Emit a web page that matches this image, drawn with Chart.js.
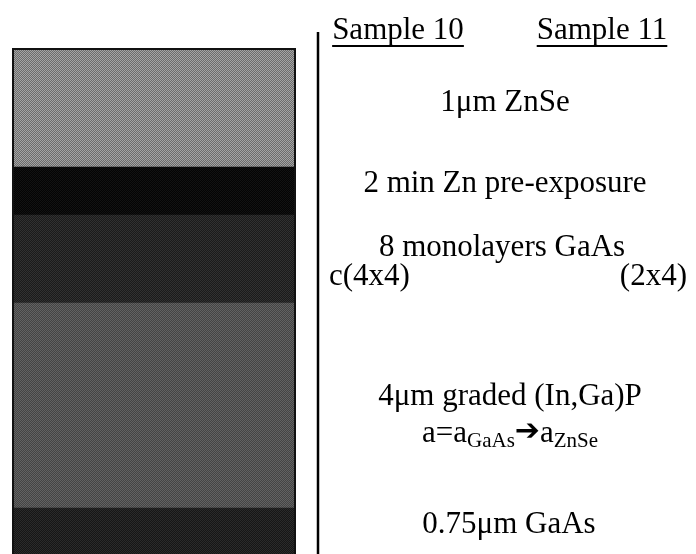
<!DOCTYPE html>
<html>
<head>
<meta charset="utf-8">
<script src="https://cdn.jsdelivr.net/npm/chart.js@4"></script>
<style>
html,body{margin:0;padding:0;background:#fff;}
#wrap{width:696px;height:554px;position:relative;}
</style>
</head>
<body>
<div id="wrap"><canvas id="c" width="696" height="554"></canvas></div>
<script>
// Layer stack, bottom to top (displayed thickness, arbitrary units)
const categories = ['Sample 10 / Sample 11'];
const layerNames = ['0.75\u03bcm GaAs', '4\u03bcm graded (In,Ga)P', '8 monolayers GaAs', '2 min Zn pre-exposure', '1\u03bcm ZnSe'];
const layerThickness = [46, 205, 88, 48, 118];
const sampleHeaders = ['Sample 10', 'Sample 11'];
const reconstructions = ['c(4x4)', '(2x4)'];

const shades = [['#161616', '#2a2a2a'], ['#444444', '#626262'], ['#1b1b1b', '#313131'], ['#040404', '#121212'], ['#6c6c6c', '#a4a4a4']];

function checker(a, b) {
  const cv = document.createElement('canvas');
  cv.width = 2; cv.height = 2;
  const g = cv.getContext('2d');
  g.fillStyle = a; g.fillRect(0, 0, 2, 2);
  g.fillStyle = b; g.fillRect(0, 0, 1, 1); g.fillRect(1, 1, 1, 1);
  return g.createPattern(cv, 'repeat');
}

const datasets = layerNames.map((n, i) => ({
  label: n,
  data: [layerThickness[i]],
  backgroundColor: checker(shades[i][0], shades[i][1]),
  borderWidth: 0,
  stack: 's',
  barPercentage: 1,
  categoryPercentage: 1
}));

const FONT = '"Liberation Serif", "Times New Roman", serif';

const annotate = {
  id: 'annotate',
  afterDatasetsDraw(chart) {
    const ctx = chart.ctx;
    const ca = chart.chartArea;
    const y = chart.scales.y;
    // stack border
    ctx.save();
    ctx.strokeStyle = '#111';
    ctx.lineWidth = 2;
    ctx.beginPath();
    ctx.moveTo(ca.left, chart.height + 2);
    ctx.lineTo(ca.left, ca.top);
    ctx.lineTo(ca.right, ca.top);
    ctx.lineTo(ca.right, chart.height + 2);
    ctx.stroke();
    // divider
    ctx.lineWidth = 2.5;
    ctx.strokeStyle = '#000';
    ctx.beginPath();
    ctx.moveTo(318, 32);
    ctx.lineTo(318, chart.height);
    ctx.stroke();

    ctx.fillStyle = '#000';
    ctx.textBaseline = 'middle';
    ctx.font = '31px ' + FONT;
    // headers with underline
    const hx = [398, 602];
    sampleHeaders.forEach((t, i) => {
      ctx.textAlign = 'center';
      ctx.fillText(t, hx[i], 31);
      const w = ctx.measureText(t).width;
      ctx.fillRect(hx[i] - w / 2, 45, w, 2);
    });
    // layer mids
    const mids = [];
    let acc = 0;
    layerThickness.forEach(v => { mids.push(y.getPixelForValue(acc + v / 2)); acc += v; });
    const cx = 505;
    ctx.textAlign = 'center';
    ctx.fillText(layerNames[4], cx, mids[4] - 5);
    ctx.fillText(layerNames[3], cx, mids[3] - 7);
    ctx.fillText(layerNames[2], cx - 3, mids[2] - 11);
    ctx.textAlign = 'left';
    ctx.fillText(reconstructions[0], 329, mids[2] + 18);
    ctx.textAlign = 'right';
    ctx.fillText(reconstructions[1], 687, mids[2] + 18);
    ctx.textAlign = 'center';
    ctx.fillText(layerNames[1], 510, mids[1] - 9);
    ctx.fillText(layerNames[0], 509, mids[0] - 6);

    // a = a_GaAs -> a_ZnSe
    const big = '31px ' + FONT, small = '21px ' + FONT;
    const parts = [['a=a', big, 0], ['GaAs', small, 8], ['\u2794', 'bold 30px "DejaVu Sans", sans-serif', -1], ['a', big, 0], ['ZnSe', small, 8]];
    let total = 0;
    parts.forEach(p => { ctx.font = p[1]; total += ctx.measureText(p[0]).width; });
    let x = 510 - total / 2;
    const ly = mids[1] + 28;
    ctx.textAlign = 'left';
    parts.forEach(p => { ctx.font = p[1]; ctx.fillText(p[0], x, ly + p[2]); x += ctx.measureText(p[0]).width; });
    ctx.restore();
  }
};

new Chart(document.getElementById('c'), {
  type: 'bar',
  data: { labels: categories, datasets },
  options: {
    responsive: false,
    animation: false,
    layout: { padding: { left: 13, right: 401, top: 49, bottom: 0 } },
    plugins: { legend: { display: false }, tooltip: { enabled: false }, title: { display: false } },
    scales: {
      x: { stacked: true, display: false },
      y: { stacked: true, display: false, min: 0, max: 505 }
    }
  },
  plugins: [annotate]
});
</script>
</body>
</html>
